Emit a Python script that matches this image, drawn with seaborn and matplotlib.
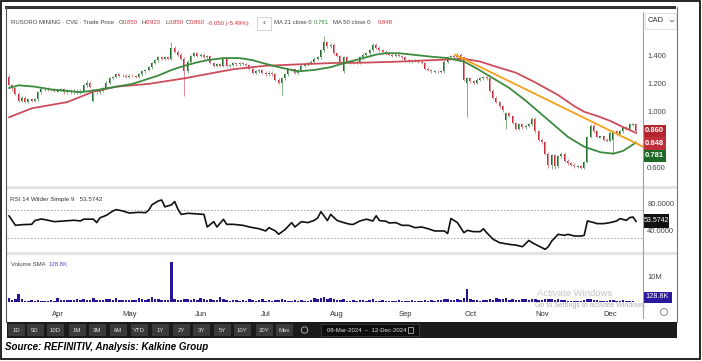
import numpy as np
import pandas as pd
import seaborn as sns
import matplotlib.pyplot as plt
from matplotlib.patches import Rectangle, Circle

# ---------------- data ----------------
# TSX-V holidays inside the window (no candle on these days)
holidays = ["2024-03-29", "2024-05-20", "2024-07-01",
            "2024-08-05", "2024-09-02", "2024-10-14"]

# daily candles, 08-Mar-2024 .. 12-Dec-2024 (CAD)
opens = [1.25, 1.19, 1.17, 1.13, 1.08, 1.10, 1.07, 1.09, 1.08, 1.09,
         1.14, 1.16, 1.17, 1.165, 1.16, 1.145, 1.155, 1.16, 1.14, 1.15,
         1.14, 1.15, 1.14, 1.15, 1.19, 1.21, 1.08, 1.15, 1.14, 1.15,
         1.17, 1.21, 1.24, 1.25, 1.27, 1.255, 1.26, 1.25, 1.26, 1.255,
         1.25, 1.27, 1.29, 1.30, 1.32, 1.35, 1.37, 1.39, 1.38, 1.39,
         1.38, 1.46, 1.43, 1.41, 1.38, 1.29, 1.36, 1.40, 1.42, 1.40,
         1.41, 1.39, 1.40, 1.35, 1.33, 1.34, 1.33, 1.38, 1.325, 1.335,
         1.35, 1.34, 1.35, 1.34, 1.335, 1.31, 1.28, 1.29, 1.30, 1.28,
         1.27, 1.28, 1.27, 1.23, 1.21, 1.24, 1.27, 1.295, 1.305, 1.28,
         1.30, 1.33, 1.34, 1.35, 1.36, 1.38, 1.39, 1.44, 1.50, 1.47,
         1.48, 1.42, 1.40, 1.29, 1.39, 1.36, 1.35, 1.36, 1.35, 1.39,
         1.41, 1.42, 1.44, 1.48, 1.46, 1.44, 1.43, 1.42, 1.41, 1.40,
         1.41, 1.40, 1.39, 1.37, 1.355, 1.365, 1.37, 1.36, 1.35, 1.31,
         1.30, 1.285, 1.295, 1.285, 1.29, 1.36, 1.39, 1.40, 1.39, 1.41,
         1.39, 1.21, 1.24, 1.22, 1.21, 1.23, 1.24, 1.25, 1.24, 1.15,
         1.10, 1.07, 1.04, 0.94, 0.99, 0.97, 0.92, 0.88, 0.91, 0.89,
         0.90, 0.91, 0.95, 0.86, 0.80, 0.78, 0.70, 0.62, 0.69, 0.61,
         0.68, 0.70, 0.65, 0.63, 0.62, 0.605, 0.615, 0.60, 0.64, 0.82,
         0.90, 0.86, 0.815, 0.825, 0.80, 0.79, 0.80, 0.86, 0.84, 0.86,
         0.89, 0.88, 0.905, 0.91]
closes = [1.19, 1.17, 1.13, 1.08, 1.10, 1.07, 1.09, 1.08, 1.09, 1.14,
          1.16, 1.17, 1.16, 1.16, 1.15, 1.155, 1.16, 1.14, 1.15, 1.14,
          1.15, 1.14, 1.15, 1.19, 1.21, 1.18, 1.15, 1.14, 1.15, 1.17,
          1.21, 1.24, 1.25, 1.27, 1.26, 1.26, 1.25, 1.26, 1.255, 1.25,
          1.27, 1.29, 1.30, 1.32, 1.35, 1.37, 1.39, 1.38, 1.39, 1.38,
          1.46, 1.43, 1.41, 1.38, 1.29, 1.36, 1.40, 1.42, 1.40, 1.41,
          1.39, 1.40, 1.35, 1.33, 1.34, 1.33, 1.38, 1.33, 1.335, 1.35,
          1.34, 1.35, 1.34, 1.335, 1.31, 1.28, 1.29, 1.30, 1.28, 1.27,
          1.28, 1.27, 1.23, 1.21, 1.24, 1.27, 1.30, 1.305, 1.28, 1.30,
          1.33, 1.34, 1.35, 1.36, 1.38, 1.39, 1.44, 1.50, 1.47, 1.48,
          1.42, 1.40, 1.36, 1.39, 1.36, 1.35, 1.36, 1.35, 1.39, 1.41,
          1.42, 1.44, 1.48, 1.46, 1.44, 1.43, 1.42, 1.41, 1.40, 1.41,
          1.40, 1.39, 1.37, 1.36, 1.365, 1.37, 1.36, 1.35, 1.31, 1.30,
          1.29, 1.295, 1.29, 1.295, 1.36, 1.39, 1.40, 1.39, 1.41, 1.39,
          1.23, 1.24, 1.22, 1.21, 1.23, 1.24, 1.25, 1.24, 1.15, 1.10,
          1.07, 1.04, 1.01, 0.99, 0.97, 0.92, 0.88, 0.91, 0.89, 0.90,
          0.91, 0.95, 0.86, 0.80, 0.78, 0.70, 0.62, 0.69, 0.61, 0.68,
          0.70, 0.65, 0.63, 0.62, 0.61, 0.615, 0.60, 0.64, 0.82, 0.90,
          0.86, 0.82, 0.825, 0.80, 0.79, 0.85, 0.86, 0.84, 0.86, 0.89,
          0.88, 0.91, 0.915, 0.86]
highs = [1.27, 1.20, 1.18, 1.14, 1.11, 1.11, 1.10, 1.10, 1.10, 1.15,
         1.17, 1.18, 1.18, 1.17, 1.17, 1.16, 1.17, 1.17, 1.16, 1.16,
         1.16, 1.16, 1.16, 1.20, 1.23, 1.22, 1.16, 1.16, 1.16, 1.18,
         1.22, 1.25, 1.26, 1.28, 1.28, 1.27, 1.27, 1.27, 1.27, 1.26,
         1.28, 1.30, 1.31, 1.33, 1.36, 1.38, 1.40, 1.40, 1.40, 1.40,
         1.50, 1.47, 1.44, 1.42, 1.39, 1.37, 1.41, 1.43, 1.43, 1.42,
         1.42, 1.41, 1.41, 1.36, 1.35, 1.35, 1.39, 1.39, 1.34, 1.36,
         1.36, 1.36, 1.36, 1.35, 1.34, 1.32, 1.30, 1.31, 1.31, 1.29,
         1.29, 1.29, 1.28, 1.24, 1.25, 1.28, 1.31, 1.31, 1.31, 1.31,
         1.34, 1.35, 1.36, 1.37, 1.39, 1.40, 1.45, 1.54, 1.51, 1.49,
         1.49, 1.43, 1.41, 1.40, 1.40, 1.37, 1.37, 1.37, 1.40, 1.42,
         1.43, 1.45, 1.49, 1.49, 1.47, 1.45, 1.44, 1.43, 1.42, 1.42,
         1.42, 1.41, 1.40, 1.38, 1.37, 1.38, 1.38, 1.37, 1.36, 1.32,
         1.31, 1.30, 1.30, 1.30, 1.37, 1.40, 1.41, 1.41, 1.42, 1.42,
         1.40, 1.25, 1.25, 1.23, 1.24, 1.25, 1.26, 1.26, 1.25, 1.16,
         1.11, 1.08, 1.05, 1.00, 1.00, 0.98, 0.93, 0.92, 0.92, 0.91,
         0.92, 0.96, 0.96, 0.87, 0.81, 0.79, 0.71, 0.70, 0.70, 0.69,
         0.71, 0.71, 0.66, 0.64, 0.63, 0.62, 0.62, 0.65, 0.83, 0.91,
         0.91, 0.87, 0.83, 0.83, 0.81, 0.86, 0.87, 0.87, 0.87, 0.90,
         0.90, 0.92, 0.92, 0.92]
lows = [1.18, 1.15, 1.12, 1.07, 1.07, 1.06, 1.06, 1.07, 1.07, 1.08,
        1.13, 1.15, 1.15, 1.15, 1.14, 1.14, 1.15, 1.13, 1.13, 1.13,
        1.13, 1.13, 1.13, 1.14, 1.18, 1.17, 1.07, 1.13, 1.13, 1.14,
        1.16, 1.20, 1.23, 1.24, 1.25, 1.25, 1.24, 1.24, 1.25, 1.24,
        1.24, 1.26, 1.28, 1.29, 1.31, 1.34, 1.36, 1.37, 1.37, 1.37,
        1.37, 1.42, 1.40, 1.37, 1.11, 1.28, 1.35, 1.39, 1.39, 1.39,
        1.38, 1.38, 1.34, 1.32, 1.32, 1.32, 1.32, 1.32, 1.32, 1.33,
        1.33, 1.33, 1.33, 1.33, 1.30, 1.27, 1.27, 1.28, 1.27, 1.26,
        1.26, 1.26, 1.22, 1.20, 1.12, 1.23, 1.26, 1.29, 1.27, 1.27,
        1.29, 1.32, 1.33, 1.34, 1.35, 1.37, 1.38, 1.43, 1.46, 1.46,
        1.41, 1.39, 1.35, 1.28, 1.35, 1.34, 1.34, 1.34, 1.34, 1.38,
        1.40, 1.41, 1.43, 1.45, 1.43, 1.42, 1.41, 1.40, 1.39, 1.39,
        1.39, 1.38, 1.36, 1.35, 1.35, 1.36, 1.35, 1.34, 1.30, 1.29,
        1.28, 1.28, 1.28, 1.28, 1.28, 1.35, 1.38, 1.38, 1.38, 1.38,
        1.22, 0.96, 1.21, 1.20, 1.20, 1.22, 1.23, 1.23, 1.14, 1.09,
        1.06, 1.03, 1.00, 0.88, 0.96, 0.91, 0.87, 0.87, 0.88, 0.88,
        0.89, 0.90, 0.85, 0.79, 0.77, 0.69, 0.60, 0.59, 0.59, 0.60,
        0.67, 0.64, 0.62, 0.61, 0.60, 0.60, 0.59, 0.59, 0.63, 0.81,
        0.85, 0.81, 0.81, 0.79, 0.78, 0.78, 0.70, 0.83, 0.83, 0.85,
        0.87, 0.87, 0.90, 0.85]

# daily volume, millions of shares
volume_m = [1.5, 0.9, 1.3, 3.4, 1.1, 0.6, 0.7, 0.8, 0.7, 0.8,
            0.6, 0.7, 0.6, 0.8, 0.7, 1.6, 0.9, 0.8, 1.0, 0.8,
            0.9, 1.1, 0.8, 1.2, 1.0, 0.9, 1.6, 1.0, 0.8, 0.9,
            1.2, 1.3, 1.0, 1.5, 0.9, 0.8, 0.9, 1.0, 0.8, 0.9,
            1.7, 1.2, 1.0, 1.4, 2.0, 1.4, 1.1, 0.9, 0.8, 0.9,
            15.6, 1.2, 1.0, 0.9, 1.3, 1.1, 1.0, 1.2, 0.9, 1.6,
            1.3, 1.0, 1.1, 0.8, 0.9, 2.1, 1.2, 0.8, 0.7, 0.9,
            0.8, 0.7, 0.9, 0.7, 1.1, 0.9, 0.6, 0.8, 1.2, 0.7,
            0.8, 0.6, 1.0, 0.8, 1.3, 0.8, 0.7, 0.6, 0.9, 0.7,
            0.8, 0.6, 0.7, 0.9, 1.6, 1.2, 1.5, 1.9, 1.4, 1.5,
            1.3, 0.8, 0.9, 1.1, 0.7, 0.6, 0.8, 0.7, 0.9, 0.8,
            0.7, 0.9, 1.1, 0.7, 0.6, 0.8, 0.6, 0.7, 0.6, 0.7,
            0.8, 0.6, 0.7, 0.6, 0.8, 0.7, 0.6, 0.7, 0.9, 0.7,
            0.8, 0.7, 0.8, 0.9, 1.2, 1.1, 1.0, 0.8, 1.1, 1.0,
            1.5, 5.3, 1.2, 1.0, 0.8, 0.7, 0.9, 0.8, 1.1, 1.0,
            1.6, 1.2, 1.1, 1.5, 0.9, 1.2, 1.0, 0.8, 1.3, 1.2,
            0.9, 1.1, 1.2, 1.0, 0.9, 1.1, 1.3, 1.2, 1.0, 1.1,
            0.9, 0.8, 0.7, 0.6, 0.7, 0.6, 0.6, 0.8, 1.4, 1.2,
            0.9, 0.8, 0.7, 0.6, 0.6, 0.9, 1.0, 0.7, 0.6, 0.8,
            0.6, 0.7, 0.6, 0.13]

# moving averages, sampled at trading-day numbers (0 = 08-Mar-2024)
ma21_day = [0, 3, 8, 13, 18, 22, 28, 33, 38, 42, 46, 50, 54, 58, 61, 66,
            71, 75, 78, 83, 89, 94, 99, 104, 109, 113, 116, 120, 124, 130,
            135, 140, 144, 149, 154, 159, 163, 166, 169, 172, 177, 182,
            186, 189, 191, 193]
ma21_val = [1.17, 1.19, 1.18, 1.16, 1.15, 1.14, 1.16, 1.18, 1.20, 1.23,
            1.26, 1.30, 1.33, 1.355, 1.37, 1.385, 1.385, 1.37, 1.35, 1.32,
            1.29, 1.30, 1.32, 1.355, 1.385, 1.41, 1.42, 1.42, 1.41, 1.395,
            1.385, 1.36, 1.31, 1.24, 1.17, 1.08, 1.00, 0.94, 0.88, 0.82,
            0.75, 0.71, 0.70, 0.72, 0.75, 0.781]
ma50_day = [0, 7, 18, 26, 33, 43, 54, 62, 69, 79, 89, 100, 109, 120, 130,
            140, 145, 149, 156, 162, 169, 174, 177, 181, 185, 189, 193]
ma50_val = [0.96, 1.025, 1.07, 1.145, 1.18, 1.20, 1.24, 1.275, 1.305, 1.33,
            1.34, 1.35, 1.352, 1.36, 1.37, 1.38, 1.36, 1.33, 1.28, 1.21,
            1.12, 1.04, 1.00, 0.97, 0.935, 0.89, 0.848]

# hand-drawn downtrend line (start / end anchor)
trend_day = [137.2, 195.1]
trend_val = [1.41, 0.75]

# RSI 14 (Wilder)
rsi_day = [0, 1, 2, 4, 7, 8, 10, 12, 14, 17, 20, 22, 23, 26, 27, 28, 30, 32,
           33, 35, 37, 40, 42, 43, 44, 46, 47, 48, 50, 51, 52, 53, 55, 57,
           60, 61, 63, 64, 66, 67, 69, 72, 74, 77, 79, 80, 82, 83, 85, 87,
           88, 90, 92, 94, 95, 96, 98, 99, 101, 103, 105, 106, 108, 110,
           112, 113, 114, 116, 117, 119, 121, 123, 125, 127, 129, 131, 134,
           135, 136, 138, 140, 141, 143, 145, 146, 147, 149, 151, 154, 156,
           158, 160, 161, 163, 165, 166, 167, 169, 171, 172, 174, 176, 177,
           178, 180, 181, 183, 185, 187, 188, 190, 191, 192, 193]
rsi_val = [62, 55, 48, 49, 49.5, 55, 57.3, 55.4, 53.4, 54.4, 55.4, 54.4, 57,
           57, 52, 59, 62.7, 69, 71, 69, 66, 67, 66.5, 70, 78, 83.7, 85, 75,
           78, 82.7, 71.5, 64, 65.6, 65, 64, 45.6, 53.4, 45.6, 56.8, 49.5,
           49.5, 48, 45.6, 43, 39.8, 44.6, 39.8, 35, 42, 52, 45.6, 53.4, 52,
           55.4, 59, 68, 55, 64, 55, 52, 49.5, 49.5, 54.4, 57, 54.4, 62, 55,
           54, 51.5, 52, 48, 48, 44.6, 45.6, 43, 39.8, 39.8, 36, 58, 52, 37.3,
           40.7, 38.8, 38.8, 43, 37.3, 27.6, 22.7, 20.2, 19.2, 16.8, 26, 22.7,
           17.8, 13, 17, 25, 34.9, 33.4, 34.9, 32.4, 32.4, 33.4, 54.4, 52,
           50.5, 50.5, 52, 54.4, 57.8, 55.4, 59.3, 60.2, 53.5742]

# ---------------- figure ----------------
sns.set_theme(style="white")
plt.rcParams['font.family'] = ['Liberation Sans', 'DejaVu Sans']

W, H = 702, 361
fig = plt.figure(figsize=(W / 100, H / 100), dpi=100)


def px_axes(l, t, r, b):
    return fig.add_axes([l / W, 1 - b / H, (r - l) / W, (b - t) / H])


trade_days = pd.bdate_range("2024-03-08", "2024-12-12")
trade_days = trade_days[~trade_days.isin(pd.to_datetime(holidays))]
day_num = np.arange(len(trade_days))

GREEN = "#1f6e2c"
RED = "#c3303b"
XL = (-0.6, 195.1)

# price panel
ax_p = px_axes(7, 12, 643, 185)
o = np.array(opens)
c = np.array(closes)
up = c >= o
ax_p.vlines(day_num[up], np.array(lows)[up], np.array(highs)[up], color="#7fb083", lw=0.7)
ax_p.vlines(day_num[~up], np.array(lows)[~up], np.array(highs)[~up], color="#e08c93", lw=0.7)
body_h = np.maximum(np.abs(c - o), 0.004)
ax_p.bar(day_num, body_h, bottom=np.minimum(o, c), width=0.62,
         color=np.where(up, GREEN, RED), linewidth=0)
sns.lineplot(x=ma50_day, y=ma50_val, ax=ax_p, color="#cc4d5a", lw=1.3)
sns.lineplot(x=ma21_day, y=ma21_val, ax=ax_p, color="#3c8a3e", lw=1.3)
sns.lineplot(x=trend_day, y=trend_val, ax=ax_p, color="#f5a11c", lw=1.3)
ax_p.set_xlim(*XL)
ax_p.set_ylim(0.4753, 1.7154)

# RSI panel
ax_r = px_axes(7, 190, 643, 252)
for lvl in (70, 30):
    ax_r.axhline(lvl, color="#9a9a9a", lw=0.6, ls=(0, (2, 2)))
sns.lineplot(x=rsi_day, y=rsi_val, ax=ax_r, color="#111111", lw=1.2)
ax_r.set_xlim(*XL)
ax_r.set_ylim(9.1, 99.6)

# volume panel
ax_v = px_axes(7, 256, 643, 302.3)
ax_v.bar(day_num, volume_m, width=0.8, color="#26149a", linewidth=0)
ax_v.set_xlim(*XL)
ax_v.set_ylim(0, 18.1)

month_first = pd.Series(day_num, index=trade_days).groupby(trade_days.to_period("M")).first().iloc[1:]
ax_v.set_xticks(month_first.values)
ax_v.set_xticklabels([p.strftime("%b") for p in month_first.index])

for ax in (ax_p, ax_r, ax_v):
    for s in ax.spines.values():
        s.set_visible(False)
    ax.set_xlabel("")
    ax.set_ylabel("")
    ax.yaxis.tick_right()
    ax.tick_params(axis="y", length=0, pad=3, labelsize=5.5, labelcolor="#444444")
    ax.tick_params(axis="x", length=0, pad=6.5, labelsize=5.5, labelcolor="#333333")
ax_p.set_xticks([])
ax_r.set_xticks([])
ax_p.set_yticks([0.6, 1.0, 1.2, 1.4])
ax_p.set_yticklabels(["0.600", "1.000", "1.200", "1.400"])
ax_r.set_yticks([40, 80])
ax_r.set_yticklabels(["40.0000", "80.0000"])
ax_v.set_yticks([10])
ax_v.set_yticklabels(["10M"])
for t in ax_p.get_yticklabels() + ax_r.get_yticklabels() + ax_v.get_yticklabels():
    t.set_horizontalalignment("left")

# overlay in pixel coordinates for frame, labels, toolbar
ov = fig.add_axes([0, 0, 1, 1])
ov.set_xlim(0, W)
ov.set_ylim(H, 0)
ov.axis("off")
ov.patch.set_alpha(0)

ov.add_patch(Rectangle((1, 1), 699, 358, fill=False, ec="black", lw=1.2))
ov.add_patch(Rectangle((5, 5.5), 671, 3, fc="#333333", lw=0))
ov.plot([6, 6], [7, 322], color="#555555", lw=0.8)
ov.plot([677, 677], [7, 322], color="#777777", lw=0.8)
ov.add_patch(Rectangle((7, 186), 670, 3, fc="#e4e4e4", lw=0))
ov.add_patch(Rectangle((7, 252), 670, 3, fc="#e4e4e4", lw=0))
ov.plot([643, 643], [12, 318], color="#a0a0a0", lw=0.8)

# header line
hy = 23
hs = 4.3
ov.text(11, hy, "RUSORO MINING · CVE · Trade Price", fontsize=hs, color="#444444", va="center")
for lx, lab, val in [(119, "O", "0.850"), (142, "H", "0.920"), (165, "L", "0.850"), (186, "C", "0.860")]:
    ov.text(lx, hy, lab, fontsize=hs, color="#444444", va="center")
    ov.text(lx + 4.0, hy, val, fontsize=hs, color="#d6343c", va="center")
ov.text(207, hy, "-0.050 (-5.49%)", fontsize=hs, color="#d6343c", va="center")
ov.add_patch(Rectangle((257, 17), 14, 13, fc="white", ec="#cccccc", lw=0.6))
ov.text(264, hy, "‹", fontsize=6, color="#333333", va="center", ha="center")
ov.text(274, hy, "MA 21 close 0", fontsize=hs, color="#444444", va="center")
ov.text(314, hy, "0.781", fontsize=hs, color="#3c8a3e", va="center")
ov.text(333, hy, "MA 50 close 0", fontsize=hs, color="#444444", va="center")
ov.text(378, hy, "0.848", fontsize=hs, color="#d6343c", va="center")

# currency selector
ov.add_patch(Rectangle((645, 13), 31, 16, fc="white", ec="#dddddd", lw=0.6))
ov.text(648, 21, "CAD", fontsize=5.5, color="#333333", va="center")
ov.plot([670, 672, 674], [20, 22, 20], color="#555555", lw=0.5)

# last-value boxes
for top, lab, col in [(124.5, "0.860", "#b3262f"), (137, "0.848", "#c0303a"), (149.5, "0.781", "#1d6a28")]:
    ov.add_patch(Rectangle((643, top), 23, 12.5, fc=col, lw=0))
    ov.text(654.5, top + 6.4, lab, fontsize=5.5, color="white", weight="bold", ha="center", va="center")

# RSI label and box
ov.text(10, 199, "RSI 14 Wilder Simple 9   53.5742", fontsize=4.5, color="#333333", va="center")
ov.add_patch(Rectangle((643, 214), 26, 14, fc="#111111", lw=0))
ov.text(656, 221, "53.5742", fontsize=5.0, color="white", ha="center", va="center")

# volume label and box
ov.text(11, 264, "Volume SMA", fontsize=4.3, color="#444444", va="center")
ov.text(49, 264, "128.8K", fontsize=4.3, color="#5a4ec8", va="center")
ov.add_patch(Rectangle((643, 291.5), 29, 11, fc="#2b1b9c", lw=0))
ov.text(657.5, 297, "128.8K", fontsize=5.3, color="white", ha="center", va="center")

# windows watermark (nudged up a little so it clears the month labels)
ov.text(537, 294, "Activate Windows", fontsize=6.8, color="#c4c4c4", va="center")
ov.text(535, 305.5, "Go to Settings to activate Windows.", fontsize=5.0, color="#b0b0b0", va="center")
ov.add_patch(Circle((664, 312), 3.5, fill=False, ec="#777777", lw=0.6))

# toolbar
ov.add_patch(Rectangle((7, 322), 670, 16, fc="#1b1b1b", lw=0))
buttons = ["1D", "5D", "10D", "1M", "3M", "6M", "YTD", "1Y", "2Y", "3Y", "5Y", "10Y", "20Y", "Max"]
centers = [16, 35, 55, 77, 97, 118, 139, 160, 181, 201, 222, 242, 264, 284]
for lab, cx in zip(buttons, centers):
    ov.add_patch(Rectangle((cx - 8.5, 324), 17, 12, fc="#3a3a3a", lw=0))
    ov.text(cx, 330, lab, fontsize=4.3, color="#dddddd", ha="center", va="center")
ov.add_patch(Circle((304.5, 330), 3.2, fill=False, ec="#bbbbbb", lw=0.6))
ov.add_patch(Rectangle((321, 324), 98, 12, fc="#0e0e0e", ec="#444444", lw=0.5))
ov.text(327, 330, "08-Mar-2024  –  12-Dec-2024", fontsize=4.3, color="#dddddd", va="center")
ov.add_patch(Rectangle((408, 326.5), 5, 6, fill=False, ec="#cccccc", lw=0.5))

# source line
ov.text(5, 347, "Source: REFINITIV, Analysis: Kalkine Group", fontsize=7.0,
        weight="bold", style="italic", color="black", va="center")

fig.savefig("out.png", dpi=100)
